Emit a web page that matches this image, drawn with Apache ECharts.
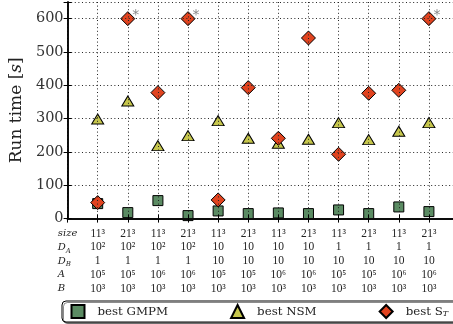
<!DOCTYPE html>
<html><head><meta charset="utf-8">
<script src="https://cdn.jsdelivr.net/npm/echarts@6/dist/echarts.min.js"></script>
<style>html,body{margin:0;padding:0;background:#fff}#c{width:453px;height:324px}</style>
</head><body><div id="c"></div><script>
// ---- data ----
const rowNames = ['size', 'D_A', 'D_B', 'A', 'B'];
const sizeRow = ['11³','21³','11³','21³','11³','21³','11³','21³','11³','21³','11³','21³'];
const daRow   = ['10²','10²','10²','10²','10','10','10','10','1','1','1','1'];
const dbRow   = ['1','1','1','1','10','10','10','10','10','10','10','10'];
const aRow    = ['10⁵','10⁵','10⁶','10⁶','10⁵','10⁵','10⁶','10⁶','10⁵','10⁵','10⁶','10⁶'];
const bRow    = ['10³','10³','10³','10³','10³','10³','10³','10³','10³','10³','10³','10³'];
const seriesNames = ['best GMPM', 'best NSM', 'best S_T'];
const gmpm = [45, 18, 54, 9, 23, 15, 17, 15, 26, 15, 35, 21];
const nsm  = [299, 353, 219, 249, 294, 241, 226, 238, 288, 237, 262, 288];
const st   = [48, 600, 378, 600, 56, 393, 241, 542, 193, 376, 385, 600];
const stTimeout = [false, true, false, true, false, false, false, false, false, false, false, true];
const yTickValues = [0, 100, 200, 300, 400, 500, 600];

// ---- helpers ----
function subFmt(s, main, sub) {
  const p = s.split('_');
  return p.length > 1 ? '{' + main + '|' + p[0] + '}{' + sub + '|' + p[1] + '}' : '{' + main + '|' + s + '}';
}
const rows = [sizeRow, daRow, dbRow, aRow, bRow];
function xLabel(v) {
  const r = Math.round(v);
  if (Math.abs(v - r) > 1e-6) return '';
  if (r === 0) return rowNames.map(n => subFmt(n, 'rn', 'rs')).join('\n');
  if (r >= 1 && r <= rows[0].length) return rows.map(row => '{n|' + row[r - 1] + '}').join('\n');
  return '';
}
const pts = arr => arr.map((v, i) => [i + 1, v]);

const serif = 'DejaVu Serif';
const numFont = 'Liberation Serif';
const LH = 13.8;

const chart = echarts.init(document.getElementById('c'), null, {renderer: 'canvas'});
chart.setOption({
  animation: false,
  backgroundColor: '#fff',
  grid: {left: 62, top: 2, right: -1.3, bottom: 105.4},
  xAxis: [{
    type: 'value', min: 0, max: 12.8, interval: 1, z: 5,
    axisLine: {show: true, onZero: false, lineStyle: {color: '#333', width: 2}},
    axisTick: {show: true, inside: true, length: 4, lineStyle: {color: '#000'}},
    splitLine: {show: true, lineStyle: {color: '#222', type: [1, 2.6], width: 1}},
    axisLabel: {
      show: true, margin: 8, showMinLabel: true, showMaxLabel: false, hideOverlap: false,
      formatter: xLabel,
      rich: {
        n: {fontFamily: numFont, fontSize: 11.5, color: '#222', lineHeight: LH},
        rn: {fontFamily: serif, fontStyle: 'italic', fontSize: 10, color: '#222', lineHeight: LH, align: 'left'},
        rs: {fontFamily: serif, fontStyle: 'italic', fontSize: 7, color: '#222', lineHeight: 7, verticalAlign: 'bottom', align: 'left'}
      }
    }
  }, {
    type: 'value', position: 'top', min: 0, max: 12.8, interval: 1, z: 5,
    axisLine: {show: true, lineStyle: {color: '#000', width: 1.5}},
    axisTick: {show: true, inside: true, length: 4, lineStyle: {color: '#000'}},
    splitLine: {show: false}, axisLabel: {show: false}
  }],
  yAxis: [{
    type: 'value', min: 0, max: 650, interval: 100, z: 5,
    name: '{a|Run time [}{i|s}{a|]}', nameLocation: 'middle', nameGap: 29,
    nameTextStyle: {rich: {
      a: {fontFamily: serif, fontSize: 17, color: '#222'},
      i: {fontFamily: serif, fontStyle: 'italic', fontSize: 17, color: '#222'}
    }},
    axisLine: {show: true, lineStyle: {color: '#000', width: 1.5}},
    axisTick: {show: true, inside: true, length: 4, lineStyle: {color: '#000'}},
    splitLine: {show: true, lineStyle: {color: '#222', type: [1, 2.6], width: 1}},
    axisLabel: {
      margin: 4, fontFamily: serif, fontSize: 14.5, color: '#333',
      formatter: v => (yTickValues.indexOf(v) >= 0 ? String(v) : '')
    }
  }, {
    type: 'value', position: 'right', min: 0, max: 650, interval: 100, z: 5,
    axisLine: {show: true, lineStyle: {color: '#000', width: 1.5}},
    axisTick: {show: true, inside: true, length: 4, lineStyle: {color: '#000'}},
    splitLine: {show: false}, axisLabel: {show: false}
  }],
  legend: {
    left: 62, top: 301, width: 600, padding: [3, 20, 3, 8.5], itemGap: 62,
    itemWidth: 13, itemHeight: 13,
    borderColor: '#000', borderWidth: 1, borderRadius: 4,
    backgroundColor: '#fff',
    shadowColor: 'rgba(0,0,0,0.45)', shadowOffsetX: 1.5, shadowOffsetY: 1.5, shadowBlur: 0,
    data: seriesNames,
    formatter: name => subFmt(name, 'a', 's'),
    textStyle: {rich: {
      a: {fontFamily: serif, fontSize: 11.8, color: '#222', padding: [0, 0, 0, 8]},
      s: {fontFamily: serif, fontStyle: 'italic', fontSize: 8, color: '#222', lineHeight: 8, verticalAlign: 'bottom'}
    }}
  },
  series: [{
    name: seriesNames[0], type: 'scatter', symbol: 'rect', symbolSize: 10, z: 2,
    itemStyle: {color: '#5b8b63', borderColor: '#000', borderWidth: 1, opacity: 1},
    data: pts(gmpm)
  }, {
    name: seriesNames[1], type: 'scatter', symbol: 'triangle', symbolSize: [12, 10], z: 3,
    itemStyle: {color: '#c6c64c', borderColor: '#000', borderWidth: 1, opacity: 1},
    data: pts(nsm)
  }, {
    name: seriesNames[2], type: 'scatter', symbol: 'diamond', symbolSize: 14, z: 4,
    itemStyle: {color: '#e0431f', borderColor: '#000', borderWidth: 1, opacity: 1},
    data: st.map((v, i) => ({
      value: [i + 1, v],
      label: {show: stTimeout[i], formatter: '*', position: 'inside', offset: [8, -3],
              fontFamily: 'DejaVu Sans', fontSize: 14, color: '#888'}
    }))
  }]
});
</script></body></html>
